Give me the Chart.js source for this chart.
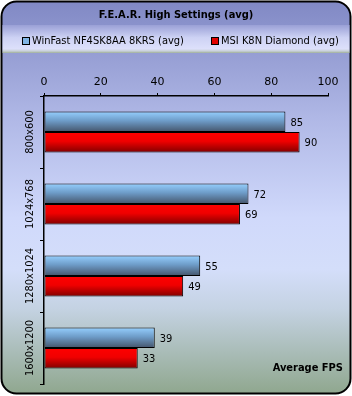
<!DOCTYPE html>
<html>
<head>
<meta charset="utf-8">
<script src="https://cdn.jsdelivr.net/npm/chart.js@4"></script>
<style>
  html, body { margin: 0; padding: 0; background: #fff; }
  canvas { display: block; }
</style>
</head>
<body>
<canvas id="chart" width="352" height="396"></canvas>
<script>
const title = "F.E.A.R. High Settings (avg)";
const resolutions = ["800x600", "1024x768", "1280x1024", "1600x1200"];
const winfast = [85, 72, 55, 39];
const msi = [90, 69, 49, 33];
const seriesNames = ["WinFast NF4SK8AA 8KRS (avg)", "MSI K8N Diamond (avg)"];
const axisTicks = [0, 20, 40, 60, 80, 100];
const axisTitle = "Average FPS";

const FONT = "'DejaVu Sans Condensed', 'DejaVu Sans', sans-serif";
const catPct = 0.57;

function barFill(ctx, which) {
  const chart = ctx.chart;
  const y = chart.scales.y;
  const fallback = which === 0 ? "#7aa8d8" : "#e00000";
  if (!y || ctx.dataIndex === undefined) return fallback;
  const c = y.getPixelForValue(ctx.dataIndex);
  const h = (y.height / resolutions.length) * catPct / 2;
  if (!isFinite(c) || !isFinite(h) || h <= 0) return fallback;
  const top = which === 0 ? c - h : c;
  const g = chart.ctx.createLinearGradient(0, top, 0, top + h);
  if (which === 0) {
    g.addColorStop(0, "#96d0ff");
    g.addColorStop(0.45, "#6e9cc8");
    g.addColorStop(1, "#44546a");
  } else {
    g.addColorStop(0, "#ff0000");
    g.addColorStop(0.45, "#f00000");
    g.addColorStop(1, "#800000");
  }
  return g;
}

function roundRect(ctx, x, y, w, h, r) {
  ctx.beginPath();
  ctx.moveTo(x + r, y);
  ctx.arcTo(x + w, y, x + w, y + h, r);
  ctx.arcTo(x + w, y + h, x, y + h, r);
  ctx.arcTo(x, y + h, x, y, r);
  ctx.arcTo(x, y, x + w, y, r);
  ctx.closePath();
}

const frame = {
  id: "frame",
  beforeDraw(chart) {
    const ctx = chart.ctx;
    ctx.save();
    ctx.fillStyle = "#fff";
    ctx.fillRect(0, 0, chart.width, chart.height);
    roundRect(ctx, 1.5, 1.5, 349, 392, 15);
    const g = ctx.createLinearGradient(0, 0, 0, 396);
    g.addColorStop(0, "#8088c4");
    g.addColorStop(0.3, "#b0b8e6");
    g.addColorStop(0.55, "#d0d9fb");
    g.addColorStop(0.68, "#d4defa");
    g.addColorStop(0.78, "#c4d2e2");
    g.addColorStop(1, "#8ea68c");
    ctx.fillStyle = g;
    ctx.fill();
    ctx.strokeStyle = "#000";
    ctx.lineWidth = 2;
    ctx.stroke();
    ctx.clip();
    // legend band
    const lg = ctx.createLinearGradient(0, 25, 0, 53);
    lg.addColorStop(0, "#9aa0d6");
    lg.addColorStop(0.45, "#cdd2f4");
    lg.addColorStop(0.85, "#dde0fb");
    lg.addColorStop(0.93, "#c8d0d8");
    lg.addColorStop(1, "#a0b098");
    ctx.fillStyle = lg;
    ctx.fillRect(2.5, 25, 347, 28);
    ctx.restore();

    ctx.save();
    ctx.fillStyle = "#000";
    ctx.textBaseline = "middle";
    ctx.textAlign = "center";
    ctx.font = "bold 11px " + FONT;
    ctx.fillText(title, 176, 15);
    // legend
    ctx.font = "11px " + FONT;
    ctx.textAlign = "left";
    const items = [
      { x: 22, name: seriesNames[0], color: "#80b4e4" },
      { x: 211, name: seriesNames[1], color: "#e00000" }
    ];
    items.forEach(it => {
      ctx.fillStyle = it.color;
      ctx.fillRect(it.x + 0.5, 37.5, 7, 7);
      ctx.strokeStyle = "#000";
      ctx.lineWidth = 1;
      ctx.strokeRect(it.x + 0.5, 37.5, 7, 7);
      ctx.fillStyle = "#000";
      ctx.fillText(it.name, it.x + 10, 41);
    });
    ctx.restore();
  },
  afterDatasetsDraw(chart) {
    const ctx = chart.ctx;
    const y = chart.scales.y;
    ctx.save();
    ctx.fillStyle = "#000";
    ctx.font = "11px " + FONT;
    ctx.textAlign = "left";
    ctx.textBaseline = "middle";
    chart.data.datasets.forEach((ds, di) => {
      chart.getDatasetMeta(di).data.forEach((bar, i) => {
        ctx.fillText(String(ds.data[i]), bar.x + 5, bar.y + 1);
      });
    });
    resolutions.forEach((r, i) => {
      const cy = y.getPixelForValue(i);
      ctx.save();
      ctx.translate(30, cy);
      ctx.rotate(-Math.PI / 2);
      ctx.textAlign = "center";
      ctx.fillText(r, 0, 0);
      ctx.restore();
    });
    ctx.font = "bold 11px " + FONT;
    ctx.textAlign = "right";
    ctx.fillText(axisTitle, 343, 368);
    ctx.restore();
  }
};

new Chart(document.getElementById("chart"), {
  type: "bar",
  data: {
    labels: resolutions,
    datasets: [
      { label: seriesNames[0], data: winfast, backgroundColor: c => barFill(c, 0) },
      { label: seriesNames[1], data: msi, backgroundColor: c => barFill(c, 1) }
    ]
  },
  options: {
    indexAxis: "y",
    responsive: false,
    animation: false,
    layout: { padding: { top: 66, right: 24, bottom: 12, left: 0 } },
    datasets: {
      bar: {
        categoryPercentage: catPct,
        barPercentage: 1,
        borderColor: "#000",
        borderWidth: 1,
        borderSkipped: false
      }
    },
    plugins: { legend: { display: false }, title: { display: false }, tooltip: { enabled: false } },
    scales: {
      x: {
        position: "top",
        min: 0,
        max: 100,
        afterBuildTicks: s => { s.ticks = axisTicks.map(v => ({ value: v })); },
        afterFit: s => { s.height = 30; },
        ticks: { color: "#000", font: { family: "'DejaVu Sans', sans-serif", size: 11 }, padding: 4 },
        grid: { drawOnChartArea: false, tickLength: 3, color: "#000", lineWidth: 1 },
        border: { color: "#000", width: 1.5 }
      },
      y: {
        offset: true,
        afterFit: s => { s.width = 44; },
        ticks: { display: false },
        grid: { drawOnChartArea: false, tickLength: 4, color: "#000", lineWidth: 1, offset: true },
        border: { color: "#000", width: 1.5 }
      }
    }
  },
  plugins: [frame]
});
</script>
</body>
</html>
